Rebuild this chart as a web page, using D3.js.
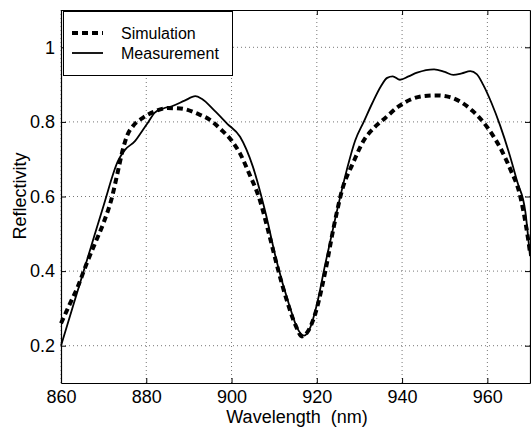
<!DOCTYPE html>
<html>
<head>
<meta charset="utf-8">
<script src="https://cdn.jsdelivr.net/npm/d3@7"></script>
<style>
  body { margin: 0; background: #fff; }
  text { font-family: "Liberation Sans", Arial, Helvetica, sans-serif; fill: #000; }
</style>
</head>
<body>
<div id="chart"></div>
<script>
// wavelength (nm) / reflectivity
var measWl = [860, 863, 866.8, 870, 873.4, 875, 877.4, 879, 880.5, 882, 884, 886, 889, 891.5, 893, 896, 899, 902, 905, 908,
  910.5, 913.5, 915.5, 917, 918.5, 920, 922, 924.5, 927, 929, 931, 933, 935, 936.5, 937.8, 939.5, 941.5, 943.5,
  947.5, 950, 952, 954, 956, 957.5, 959, 961, 963, 965, 967, 968.9, 970];
var measR = [0.20, 0.313, 0.456, 0.576, 0.696, 0.725, 0.749, 0.775, 0.80, 0.825, 0.836, 0.842, 0.857, 0.869, 0.862, 0.83, 0.795, 0.76, 0.68, 0.555,
  0.43, 0.31, 0.245, 0.227, 0.25, 0.31, 0.42, 0.55, 0.67, 0.75, 0.80, 0.85, 0.895, 0.918, 0.922, 0.913, 0.922, 0.932,
  0.941, 0.934, 0.926, 0.93, 0.936, 0.928, 0.90, 0.85, 0.79, 0.72, 0.64, 0.56, 0.44];

var simWl = [860, 862, 864, 866, 868, 870, 872, 873.2, 874.6, 875.5, 876.9, 879.2, 882, 885, 888, 892, 895, 897.5, 900, 902, 904, 906.5, 909,
  911, 913, 915, 916.5, 918, 920, 922, 924, 926, 928.5, 931, 933.5, 936, 939, 942, 945, 948, 951, 954, 956.5,
  959, 961.5, 963.5, 965.5, 967.5, 969.5, 970];
var simR = [0.26, 0.31, 0.36, 0.42, 0.475, 0.53, 0.60, 0.66, 0.73, 0.763, 0.789, 0.811, 0.828, 0.837, 0.836, 0.822, 0.805, 0.78, 0.75, 0.715, 0.665, 0.595, 0.49,
  0.40, 0.32, 0.255, 0.225, 0.24, 0.30, 0.40, 0.52, 0.62, 0.69, 0.75, 0.785, 0.81, 0.84, 0.86, 0.869, 0.871, 0.867, 0.852, 0.83,
  0.80, 0.76, 0.72, 0.67, 0.61, 0.49, 0.45];

var xTicks = [860, 880, 900, 920, 940, 960];
var yTicks = [0.2, 0.4, 0.6, 0.8, 1];
var legendNames = ["Simulation", "Measurement"];

var W = 531, H = 431;
var pLeft = 61, pRight = 530, pTop = 10, pBottom = 383;

var svg = d3.select("#chart").append("svg")
  .attr("width", W)
  .attr("height", H);

var x = d3.scaleLinear().domain([860, 970]).range([pLeft, pRight]);
var y = d3.scaleLinear().domain([0.1, 1.1]).range([pBottom, pTop]);

// dotted grid
svg.append("g").selectAll("line")
  .data(xTicks)
  .enter().append("line")
  .attr("x1", function(d) { return x(d); })
  .attr("x2", function(d) { return x(d); })
  .attr("y1", pTop)
  .attr("y2", pBottom)
  .attr("stroke", "#777")
  .attr("stroke-width", 1)
  .attr("stroke-dasharray", "1,3");

svg.append("g").selectAll("line")
  .data(yTicks)
  .enter().append("line")
  .attr("x1", pLeft)
  .attr("x2", pRight)
  .attr("y1", function(d) { return y(d); })
  .attr("y2", function(d) { return y(d); })
  .attr("stroke", "#777")
  .attr("stroke-width", 1)
  .attr("stroke-dasharray", "1,3");

// axes, ticks pointing inward
var fmtY = function(d) { return d === 1 ? "1" : d3.format(".1f")(d); };

svg.append("g")
  .attr("transform", "translate(0," + pBottom + ")")
  .call(d3.axisBottom(x).tickValues(xTicks).tickSizeInner(-5).tickSizeOuter(0).tickPadding(7));

svg.append("g")
  .attr("transform", "translate(0," + pTop + ")")
  .call(d3.axisTop(x).tickValues(xTicks).tickSizeInner(-5).tickSizeOuter(0).tickFormat(""));

svg.append("g")
  .attr("transform", "translate(" + pLeft + ",0)")
  .call(d3.axisLeft(y).tickValues(yTicks).tickSizeInner(-5).tickSizeOuter(0).tickPadding(6).tickFormat(fmtY));

svg.append("g")
  .attr("transform", "translate(" + pRight + ",0)")
  .call(d3.axisRight(y).tickValues(yTicks).tickSizeInner(-5).tickSizeOuter(0).tickFormat(""));

svg.selectAll(".domain").attr("stroke", "#000").attr("stroke-width", 1.2);
svg.selectAll(".tick line").attr("stroke", "#000");
svg.selectAll(".tick text")
  .attr("font-family", null)
  .attr("font-size", null)
  .style("font-size", "18px");

// curves
var line = d3.line()
  .x(function(d) { return x(d[0]); })
  .y(function(d) { return y(d[1]); })
  .curve(d3.curveMonotoneX);

var plot = svg.append("g");

plot.append("path")
  .datum(d3.zip(simWl, simR))
  .attr("d", line)
  .attr("fill", "none")
  .attr("stroke", "#000")
  .attr("stroke-width", 4)
  .attr("stroke-dasharray", "6,4");

plot.append("path")
  .datum(d3.zip(measWl, measR))
  .attr("d", line)
  .attr("fill", "none")
  .attr("stroke", "#000")
  .attr("stroke-width", 1.8);

// legend
var lg = svg.append("g");
lg.append("rect")
  .attr("x", 63.5).attr("y", 11.5)
  .attr("width", 169).attr("height", 64)
  .attr("fill", "#fff")
  .attr("stroke", "#000")
  .attr("stroke-width", 1);

lg.selectAll("line")
  .data(legendNames)
  .enter().append("line")
  .attr("x1", 72).attr("x2", 103)
  .attr("y1", function(d, i) { return 33 + i * 20; })
  .attr("y2", function(d, i) { return 33 + i * 20; })
  .attr("stroke", "#000")
  .attr("stroke-width", function(d, i) { return i === 0 ? 4 : 1.8; })
  .attr("stroke-dasharray", function(d, i) { return i === 0 ? "6,4" : null; });

lg.selectAll("text")
  .data(legendNames)
  .enter().append("text")
  .attr("x", 121)
  .attr("y", function(d, i) { return 39 + i * 20; })
  .style("font-size", "16px")
  .text(function(d) { return d; });

// axis titles
svg.append("text")
  .attr("x", 297).attr("y", 423)
  .attr("text-anchor", "middle")
  .style("font-size", "18px")
  .style("white-space", "pre")
  .text("Wavelength  (nm)");

svg.append("text")
  .attr("transform", "translate(26,196) rotate(-90)")
  .attr("text-anchor", "middle")
  .style("font-size", "18px")
  .text("Reflectivity");
</script>
</body>
</html>
